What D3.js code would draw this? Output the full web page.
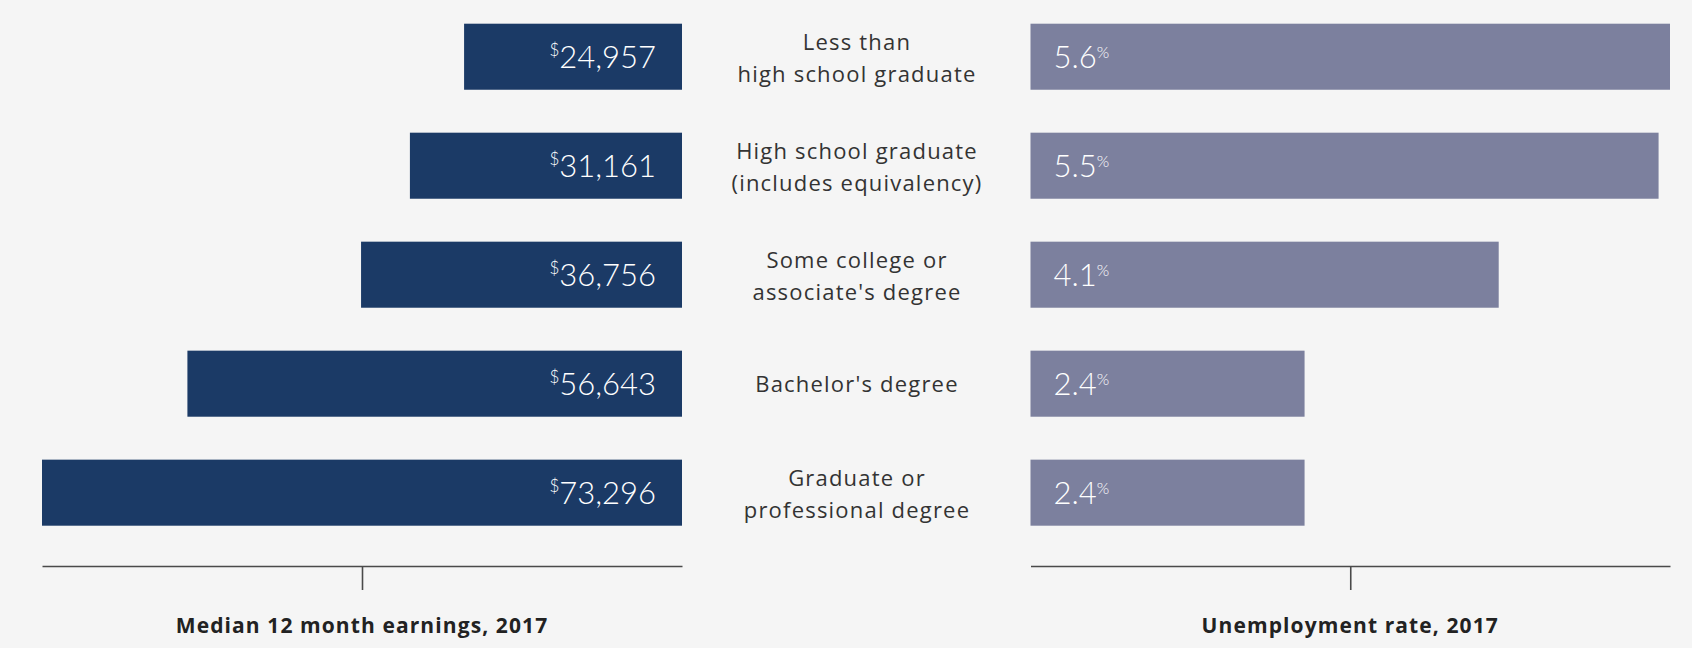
<!DOCTYPE html>
<html>
<head>
<meta charset="utf-8">
<script src="https://cdn.jsdelivr.net/npm/d3@7"></script>
<style>
  html, body { margin: 0; padding: 0; background: #f5f5f5; }
  svg { display: block; }
  text { font-family: Lato, "Open Sans", sans-serif; }
  .cat, .title { font-family: "Open Sans", Lato, sans-serif; }
</style>
</head>
<body>
<svg id="chart" width="1692" height="648"></svg>
<script>
const categories = [
  ["Less than", "high school graduate"],
  ["High school graduate", "(includes equivalency)"],
  ["Some college or", "associate's degree"],
  ["Bachelor's degree"],
  ["Graduate or", "professional degree"]
];
const earnings = [24957, 31161, 36756, 56643, 73296];
const unemployment = [5.6, 5.5, 4.1, 2.4, 2.4];
const earningsTitle = "Median 12 month earnings, 2017";
const unemploymentTitle = "Unemployment rate, 2017";

const svg = d3.select("#chart");
const W = 1692, H = 648;
svg.append("rect").attr("width", W).attr("height", H).attr("fill", "#f5f5f5");

const idx = d3.range(categories.length);
const y = d3.scaleBand().domain(idx).range([23.7, 525.7]).paddingInner(0.394).paddingOuter(0);

const xL = d3.scaleLinear().domain([0, d3.max(earnings)]).range([682, 42]);
const xR = d3.scaleLinear().domain([0, d3.max(unemployment)]).range([1030.5, 1670]);

const navy = "#1b3a66", slate = "#7c809e";

// Left bars
svg.append("g").selectAll("rect").data(earnings).join("rect")
  .attr("x", d => xL(d))
  .attr("y", (d, i) => y(i))
  .attr("width", d => xL(0) - xL(d))
  .attr("height", y.bandwidth())
  .attr("fill", navy);

// Right bars
svg.append("g").selectAll("rect").data(unemployment).join("rect")
  .attr("x", xR(0))
  .attr("y", (d, i) => y(i))
  .attr("width", d => xR(d) - xR(0))
  .attr("height", y.bandwidth())
  .attr("fill", slate);

const fmt = d3.format(",");

// Left value labels
const lt = svg.append("g").selectAll("text").data(earnings).join("text")
  .attr("x", d => xL(0) - 26)
  .attr("y", (d, i) => y(i) + y.bandwidth() / 2 + 11.5)
  .attr("text-anchor", "end")
  .attr("fill", "#ffffff")
  .attr("font-weight", 300)
  .attr("font-size", 31);
lt.append("tspan").attr("font-size", 17).attr("dy", -12).text("$");
lt.append("tspan").attr("dy", 12).text(d => fmt(d));

// Right value labels
const rt = svg.append("g").selectAll("text").data(unemployment).join("text")
  .attr("x", xR(0) + 23)
  .attr("y", (d, i) => y(i) + y.bandwidth() / 2 + 11.5)
  .attr("text-anchor", "start")
  .attr("fill", "#ffffff")
  .attr("font-weight", 300)
  .attr("font-size", 31);
rt.append("tspan").text(d => d3.format(".1f")(d));
rt.append("tspan").attr("font-size", 16).attr("dy", -10).text("%");

// Category labels
const cx = 857;
const cg = svg.append("g").selectAll("text").data(categories).join("text")
  .attr("class", "cat")
  .attr("text-anchor", "middle")
  .attr("fill", "#333333")
  .attr("font-size", 22)
  .attr("letter-spacing", 1.2)
  .attr("y", (d, i) => {
    const c = y(i) + y.bandwidth() / 2;
    return d.length === 2 ? c - 7 : c + 8;
  });
cg.selectAll("tspan").data(d => d).join("tspan")
  .attr("x", cx)
  .attr("dy", (d, j) => j === 0 ? 0 : 32.7)
  .text(d => d);

// Axes
const axisY = 566;
const axL = d3.axisBottom(xL).tickValues([d3.max(earnings) / 2]).tickFormat("").tickSize(24).tickSizeOuter(0);
const axR = d3.axisBottom(xR).tickValues([d3.max(unemployment) / 2]).tickFormat("").tickSize(24).tickSizeOuter(0);
[axL, axR].forEach(ax => {
  const g = svg.append("g").attr("transform", `translate(0,${axisY})`).call(ax);
  g.select(".domain").attr("stroke", "#4a4a4a").attr("stroke-width", 1.6);
  g.selectAll(".tick line").attr("stroke", "#4a4a4a").attr("stroke-width", 1.6);
});

// Axis titles
[[xL, earningsTitle], [xR, unemploymentTitle]].forEach(([sc, t]) => {
  svg.append("text")
    .attr("class", "title")
    .attr("x", (sc.range()[0] + sc.range()[1]) / 2)
    .attr("y", 633)
    .attr("text-anchor", "middle")
    .attr("font-weight", 700)
    .attr("font-size", 21)
    .attr("letter-spacing", 1.1)
    .attr("fill", "#222222")
    .text(t);
});
</script>
</body>
</html>
